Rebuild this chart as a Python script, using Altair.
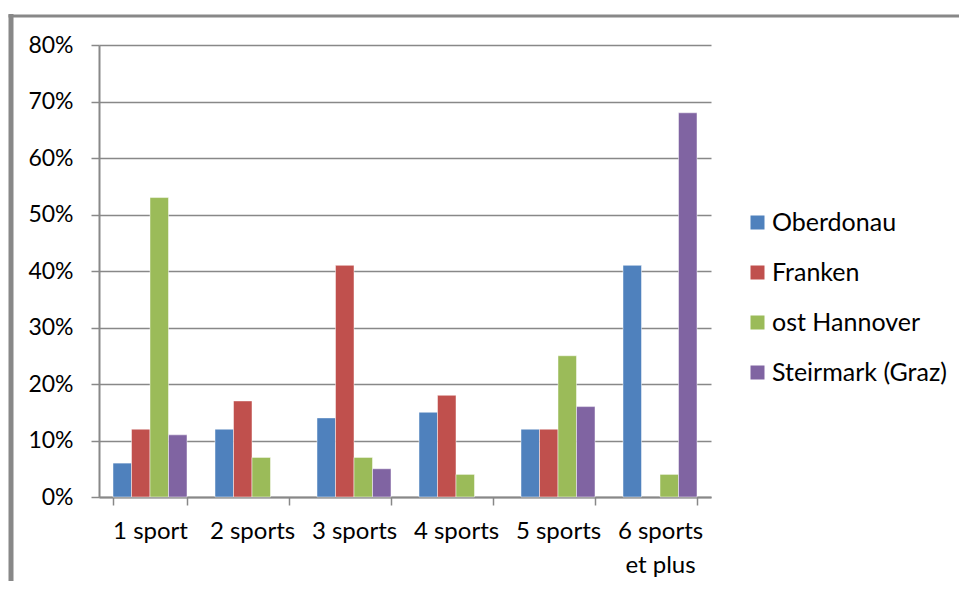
import altair as alt
import pandas as pd

categories = ["1 sport", "2 sports", "3 sports", "4 sports", "5 sports", "6 sports et plus"]
series = ["Oberdonau", "Franken", "ost Hannover", "Steirmark (Graz)"]
oberdonau = [0.06, 0.12, 0.14, 0.15, 0.12, 0.41]
franken = [0.12, 0.17, 0.41, 0.18, 0.12, 0.0]
ost_hannover = [0.53, 0.07, 0.07, 0.04, 0.25, 0.04]
steirmark = [0.11, 0.0, 0.05, 0.0, 0.16, 0.68]
colors = ["#4F81BD", "#C0504D", "#9BBB59", "#8064A2"]

rows = []
for s, vals in zip(series, [oberdonau, franken, ost_hannover, steirmark]):
    for c, v in zip(categories, vals):
        if v > 0:
            rows.append({"cat": c, "series": s, "value": v})
df = pd.DataFrame(rows)

FONT = "Lato"
GRID = "#888888"
W, H = 612, 452
PL, PT = 91, 37

bars = alt.Chart(df).mark_bar(stroke="white", strokeWidth=0.8, strokeOpacity=0.6).encode(
    x=alt.X(
        "cat:N",
        sort=categories,
        scale=alt.Scale(domain=categories, paddingInner=0.2745, paddingOuter=0.13725),
        axis=alt.Axis(
            title=None,
            labelAngle=0,
            tickBand="extent",
            ticks=True,
            tickSize=8,
            tickColor=GRID,
            tickWidth=1.5,
            domainColor=GRID,
            domainWidth=2,
            labelFont=FONT,
            labelFontSize=24,
            labelColor="#000000",
            labelPadding=14,
            labelLineHeight=34,
            labelExpr="datum.label == '6 sports et plus' ? ['6 sports', 'et plus'] : datum.label",
        ),
    ),
    xOffset=alt.XOffset(
        "series:N",
        sort=series,
        scale=alt.Scale(domain=series, paddingInner=0, paddingOuter=0),
    ),
    y=alt.Y(
        "value:Q",
        scale=alt.Scale(domain=[0, 0.8]),
        axis=alt.Axis(
            title=None,
            format=".0%",
            values=[0, 0.1, 0.2, 0.3, 0.4, 0.5, 0.6, 0.7, 0.8],
            grid=True,
            gridColor=GRID,
            gridWidth=1.5,
            tickSize=8,
            tickColor=GRID,
            tickWidth=1.5,
            domainColor=GRID,
            domainWidth=2,
            labelFont=FONT,
            labelFontSize=23,
            labelColor="#000000",
            labelPadding=18,
        ),
    ),
    color=alt.Color(
        "series:N",
        sort=series,
        scale=alt.Scale(domain=series, range=colors),
        legend=alt.Legend(
            title=None,
            orient="none",
            legendX=646,
            legendY=165,
            symbolType="square",
            symbolSize=196,
            symbolStrokeWidth=0,
            labelFont=FONT,
            labelFontSize=25,
            labelColor="#000000",
            labelOffset=2,
            labelLimit=400,
            rowPadding=24,
        ),
    ),
)

frame_left = alt.Chart(pd.DataFrame({"k": [0]})).mark_rule(color=GRID, strokeWidth=5).encode(
    x=alt.value(-88), y=alt.value(-31), y2=alt.value(H + 120)
)
frame_top = alt.Chart(pd.DataFrame({"k": [0]})).mark_rule(color=GRID, strokeWidth=3).encode(
    x=alt.value(-90.5), x2=alt.value(W + 300), y=alt.value(-29)
)

chart = alt.layer(frame_left, frame_top, bars).properties(
    width=W,
    height=H,
    autosize=alt.AutoSizeParams(type="none"),
    padding={"left": PL, "top": PT, "right": 248, "bottom": 84},
).configure_view(stroke=None)

chart.save("out.html", embed_options={"renderer": "svg", "actions": False})
